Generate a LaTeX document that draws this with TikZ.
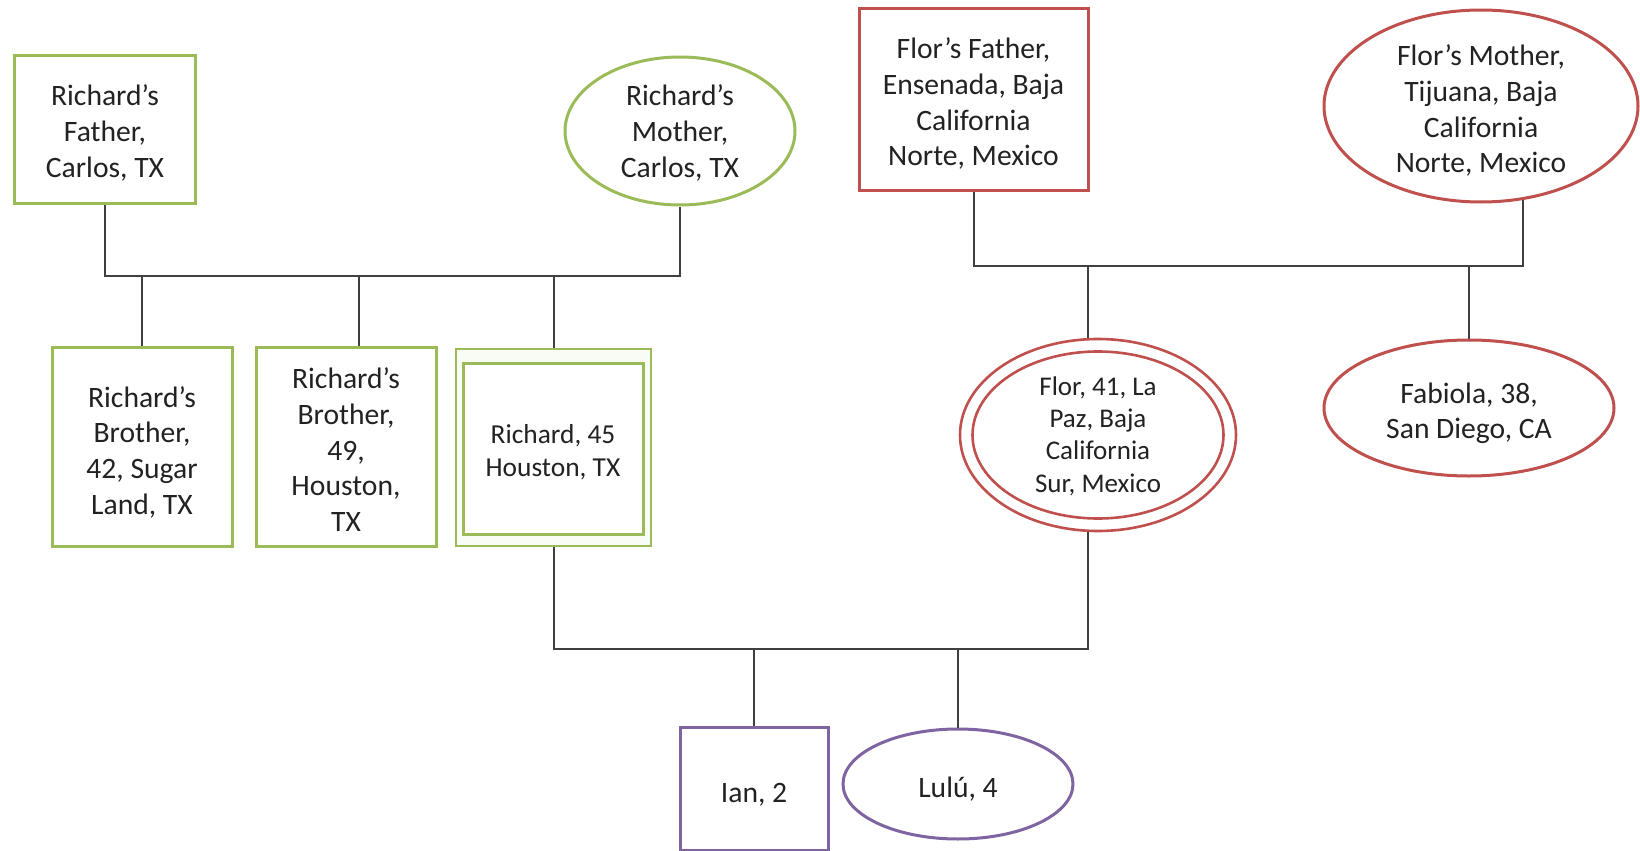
\documentclass[tikz,border=0pt]{standalone}
\usepackage{fontspec}
\setmainfont{Carlito}
\usetikzlibrary{shapes.geometric}
\definecolor{famgreen}{HTML}{9BBB59}
\definecolor{famred}{HTML}{C0504D}
\definecolor{fampurple}{HTML}{8064A2}
\definecolor{linkgray}{HTML}{404040}
\definecolor{inkdark}{HTML}{222222}
\begin{document}
\begin{tikzpicture}[x=0.5pt,y=-0.5pt,
  person/.style={draw, line width=1.5pt, fill=white, inner sep=0pt},
  male/.style={person, rectangle},
  female/.style={person, ellipse},
  caption/.style={align=center, inner sep=0pt, text=inkdark,
    font=\fontsize{14.8}{17.8}\selectfont},
  link/.style={draw=linkgray, line width=1pt}]
\useasboundingbox (0,0) rectangle (1640,851);

% Richard's side
\node[male, draw=famgreen, minimum width=90.5pt, minimum height=74pt] (rf) at (105,129) {};
\node[caption] (rf-t) at ([yshift=-2pt]rf.center) {Richard’s\\Father,\\Carlos, TX};
\node[female, draw=famgreen, minimum width=115pt, minimum height=74pt] (rm) at (680,131) {};
\node[caption] (rm-t) at ([yshift=-1pt]rm.center) {Richard’s\\Mother,\\Carlos, TX};
\node[male, draw=famgreen, minimum width=90pt, minimum height=99.5pt] (b1) at (142,446.5) {};
\node[caption] (b1-t) at ([yshift=-2.8pt]b1.center) {Richard’s\\Brother,\\42, Sugar\\Land, TX};
\node[male, draw=famgreen, minimum width=90pt, minimum height=99.5pt] (b2) at (346,446.5) {};
\node[caption] (b2-t) at ([yshift=-1.6pt]b2.center) {Richard’s\\Brother,\\49,\\Houston,\\TX};
\node[male, draw=famgreen, line width=1.1pt, fill=famgreen!6, minimum width=97.5pt, minimum height=98.5pt] (ri) at (553.5,447.5) {};
\node[male, draw=famgreen, minimum width=90pt, minimum height=85.5pt] (rin) at (553,448.5) {};
\node[caption, font=\fontsize{13.7}{16.4}\selectfont] (ri-t) at ([yshift=-1.8pt]rin.center)
  {Richard, 45\\Houston, TX};

% Flor's side
\node[male, draw=famred, minimum width=114.5pt, minimum height=91pt] (ff) at (973.5,99) {};
\node[caption] (ff-t) at ([yshift=-2.4pt]ff.center)
  {Flor’s Father,\\Ensenada, Baja\\California\\Norte, Mexico};
\node[female, draw=famred, minimum width=157pt, minimum height=96pt] (fm) at (1481,106) {};
\node[caption] (fm-t) at ([yshift=-2.4pt]fm.center)
  {Flor’s Mother,\\Tijuana, Baja\\California\\Norte, Mexico};
\node[female, draw=famred, line width=1.3pt, minimum width=138pt, minimum height=96pt] (fl) at (1098,435) {};
\node[female, draw=famred, line width=1.3pt, minimum width=125.5pt, minimum height=83.5pt] (fln) at (1098,435) {};
\node[caption, font=\fontsize{13.5}{16.2}\selectfont] (fl-t) at ([yshift=-0.5pt]fl.center)
  {Flor, 41, La\\Paz, Baja\\California\\Sur, Mexico};
\node[female, draw=famred, minimum width=145pt, minimum height=68pt] (fb) at (1469,408) {};
\node[caption] (fb-t) at ([yshift=-2.6pt]fb.center) {Fabiola, 38,\\San Diego, CA};

% Children
\node[male, draw=fampurple, minimum width=74pt, minimum height=61.5pt] (ian) at (754,788.5) {};
\node[caption] (ian-t) at ([yshift=-3pt]ian.center) {Ian, 2};
\node[female, draw=fampurple, minimum width=115pt, minimum height=55pt] (lulu) at (958,784) {};
\node[caption] (lulu-t) at ([yshift=-2.6pt]lulu.center) {Lulú, 4};

% Sibship lines
\coordinate (jl) at (0,276);
\coordinate (jr) at (0,266);
\coordinate (jb) at (0,648.5);

\draw[link] (rf.south) -- (rf.south |- jl) -- (rm.south |- jl) -- (rm.south);
\draw[link] (b1.north) -- (b1.north |- jl);
\draw[link] ([xshift=6.5pt]b2.north) -- ([xshift=6.5pt]b2.north |- jl);
\draw[link] (ri.north) -- (ri.north |- jl);

\draw[link] (ff.south) -- (ff.south |- jr) -- (fm.-66 |- jr) -- (fm.-66);
\draw[link] ([xshift=-5pt]fl.north) -- ([xshift=-5pt]fl.north |- jr);
\draw[link] (fb.north) -- (fb.north |- jr);

\draw[link] (ri.south) -- (ri.south |- jb) -- ([xshift=-5pt]fl.south |- jb) -- ([xshift=-5pt]fl.south);
\draw[link] (ian.north) -- (ian.north |- jb);
\draw[link] (lulu.north) -- (lulu.north |- jb);
\end{tikzpicture}
\end{document}
